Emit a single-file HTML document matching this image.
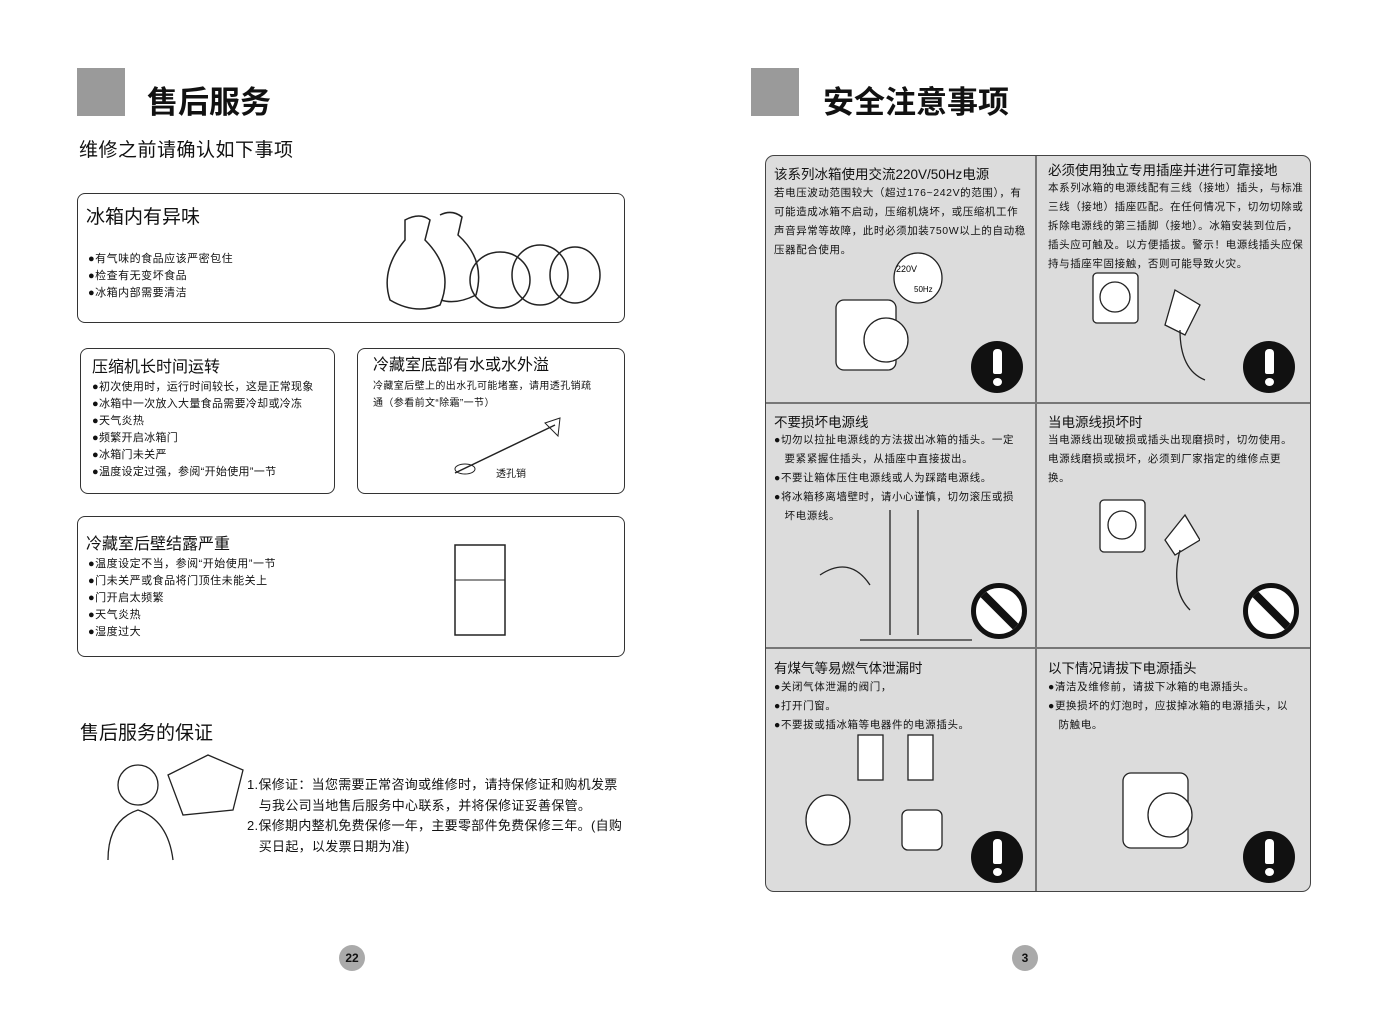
<!DOCTYPE html>
<html><head><meta charset="utf-8"><style>
body{margin:0;width:1380px;height:1020px;background:#fff;position:relative;font-family:"Liberation Sans","Noto Sans CJK SC",sans-serif;color:#111;overflow:hidden}
.a{position:absolute;white-space:nowrap}
.box{position:absolute;border:1.5px solid #333;border-radius:8px;box-sizing:border-box}
.sm{font-size:11px;line-height:17px;letter-spacing:0.5px}
.h{font-size:16px;line-height:20px}
.t{font-size:13.5px;line-height:18px}
.cell{position:absolute;font-size:10.5px;line-height:19px;white-space:nowrap;letter-spacing:0.6px}
.ex{position:absolute;width:52px;height:52px;border-radius:50%;background:#111}
.ex:before{content:"";position:absolute;left:22px;top:8px;width:9px;height:25px;background:#fff;border-radius:4px 4px 2px 2px}
.ex:after{content:"";position:absolute;left:22px;top:37px;width:9px;height:8px;background:#fff;border-radius:50%}
.no{position:absolute;width:46px;height:46px;border-radius:50%;border:5px solid #111;background:#fff;overflow:hidden}
.no:after{content:"";position:absolute;left:-6px;top:19px;width:60px;height:8px;background:#111;transform:rotate(45deg)}
.pg{position:absolute;width:26px;height:26px;border-radius:50%;background:#aaa;font-size:12px;font-weight:bold;text-align:center;line-height:26px}
</style></head><body>
<div class="a" style="left:77px;top:68px;width:48px;height:48px;background:#9a9a9a"></div>
<div class="a" style="left:147px;top:83px;font-size:31px;line-height:40px;font-weight:bold">售后服务</div>
<div class="a" style="left:79px;top:139px;font-size:19px;line-height:24px;letter-spacing:0.5px">维修之前请确认如下事项</div>

<div class="box" style="left:77px;top:193px;width:548px;height:130px"></div>
<div class="a" style="left:86px;top:206px;font-size:19px;line-height:24px">冰箱内有异味</div>
<div class="a sm" style="left:88px;top:251px">●有气味的食品应该严密包住<br>●检查有无变坏食品<br>●冰箱内部需要清洁</div>
<svg class="a" style="left:380px;top:205px" width="230" height="110"><g fill="none" stroke="#222" stroke-width="1.5"><path d="M25 15 q15 -8 25 0 l-5 20 q30 30 15 65 q-25 10 -50 -5 q-10 -30 15 -60z"/><path d="M60 10 q12 -6 22 2 l-4 18 q28 25 18 60 q-20 10 -35 5"/><ellipse cx="120" cy="75" rx="30" ry="28"/><ellipse cx="160" cy="70" rx="28" ry="30"/><ellipse cx="195" cy="70" rx="25" ry="28"/></g></svg>

<div class="box" style="left:80px;top:348px;width:255px;height:146px"></div>
<div class="a h" style="left:92px;top:358px">压缩机长时间运转</div>
<div class="a sm" style="left:92px;top:379px;letter-spacing:0.3px">●初次使用时，运行时间较长，这是正常现象<br>●冰箱中一次放入大量食品需要冷却或冷冻<br>●天气炎热<br>●频繁开启冰箱门<br>●冰箱门未关严<br>●温度设定过强，参阅“开始使用”一节</div>
<div class="box" style="left:357px;top:348px;width:268px;height:146px"></div>
<div class="a h" style="left:373px;top:356px">冷藏室底部有水或水外溢</div>
<div class="a" style="left:373px;top:378px;font-size:10px;line-height:17px;letter-spacing:0.4px">冷藏室后壁上的出水孔可能堵塞，请用透孔销疏<br>通（参看前文“除霜”一节）</div>
<svg class="a" style="left:440px;top:415px" width="130" height="70"><line x1="15" y1="58" x2="115" y2="10" stroke="#222" stroke-width="1.5"/><path d="M105 8 l15 -5 l-2 18 z" fill="none" stroke="#222"/><ellipse cx="25" cy="54" rx="10" ry="5" fill="none" stroke="#222"/></svg>
<div class="a" style="left:496px;top:465px;font-size:10px">透孔销</div>

<div class="box" style="left:77px;top:516px;width:548px;height:141px"></div>
<div class="a h" style="left:86px;top:535px">冷藏室后壁结露严重</div>
<div class="a sm" style="left:88px;top:556px">●温度设定不当，参阅“开始使用”一节<br>●门未关严或食品将门顶住未能关上<br>●门开启太频繁<br>●天气炎热<br>●湿度过大</div>
<svg class="a" style="left:430px;top:540px" width="90" height="100"><rect x="25" y="5" width="50" height="90" fill="none" stroke="#222" stroke-width="1.5"/><line x1="25" y1="40" x2="75" y2="40" stroke="#222"/></svg>

<div class="a" style="left:80px;top:722px;font-size:19px;line-height:24px">售后服务的保证</div>
<svg class="a" style="left:98px;top:750px" width="150" height="115"><g fill="none" stroke="#222" stroke-width="1.3"><circle cx="40" cy="35" r="20"/><path d="M10 110 q0 -40 30 -50 q30 10 35 50"/><path d="M70 25 l40 -20 l35 15 l-10 40 l-50 5z"/></g></svg>
<div class="a" style="left:247px;top:775px;font-size:13px;line-height:20.5px;letter-spacing:0.3px">1.保修证：当您需要正常咨询或维修时，请持保修证和购机发票<br>&nbsp;&nbsp;&nbsp;与我公司当地售后服务中心联系，并将保修证妥善保管。<br>2.保修期内整机免费保修一年，主要零部件免费保修三年。(自购<br>&nbsp;&nbsp;&nbsp;买日起，以发票日期为准)</div>
<div class="pg" style="left:339px;top:945px">22</div>

<div class="a" style="left:751px;top:68px;width:48px;height:48px;background:#9a9a9a"></div>
<div class="a" style="left:823px;top:83px;font-size:31px;line-height:40px;font-weight:bold">安全注意事项</div>
<div class="a" style="left:765px;top:155px;width:546px;height:737px;background:#dcdcdc;border:1.5px solid #444;border-radius:9px;box-sizing:border-box"></div>
<div class="a" style="left:1035px;top:156px;width:1.5px;height:735px;background:#777"></div>
<div class="a" style="left:766px;top:402px;width:544px;height:1.5px;background:#777"></div>
<div class="a" style="left:766px;top:647px;width:544px;height:1.5px;background:#777"></div>

<div class="a t" style="left:774px;top:166px">该系列冰箱使用交流220V/50Hz电源</div>
<div class="cell" style="left:774px;top:184px">若电压波动范围较大（超过176~242V的范围），有<br>可能造成冰箱不启动，压缩机烧坏，或压缩机工作<br>声音异常等故障，此时必须加装750W以上的自动稳<br>压器配合使用。</div>
<div class="a t" style="left:1048px;top:162px">必须使用独立专用插座并进行可靠接地</div>
<div class="cell" style="left:1048px;top:179px">本系列冰箱的电源线配有三线（接地）插头，与标准<br>三线（接地）插座匹配。在任何情况下，切勿切除或<br>拆除电源线的第三插脚（接地）。冰箱安装到位后，<br>插头应可触及。以方便插拔。警示！电源线插头应保<br>持与插座牢固接触，否则可能导致火灾。</div>
<svg class="a" style="left:826px;top:250px" width="130" height="140"><g fill="#fff" stroke="#222" stroke-width="1.3"><ellipse cx="92" cy="28" rx="24" ry="25"/><rect x="10" y="50" width="60" height="70" rx="8"/><circle cx="60" cy="90" r="22"/></g><text x="70" y="22" font-size="9" font-family="Liberation Sans">220V</text><text x="88" y="42" font-size="8" font-family="Liberation Sans">50Hz</text></svg>
<svg class="a" style="left:1090px;top:270px" width="120" height="120"><g fill="#fff" stroke="#222" stroke-width="1.3"><rect x="3" y="3" width="45" height="50" rx="4"/><circle cx="25" cy="27" r="15"/><path d="M85 20 l25 15 l-15 30 l-20 -10z"/><path d="M90 60 q0 40 25 50" fill="none"/></g></svg>
<div class="ex" style="left:971px;top:341px"></div>
<div class="ex" style="left:1243px;top:341px"></div>

<div class="a t" style="left:774px;top:414px">不要损坏电源线</div>
<div class="cell" style="left:774px;top:431px">●切勿以拉扯电源线的方法拔出冰箱的插头。一定<br>&nbsp;&nbsp;&nbsp;要紧紧握住插头，从插座中直接拔出。<br>●不要让箱体压住电源线或人为踩踏电源线。<br>●将冰箱移离墙壁时，请小心谨慎，切勿滚压或损<br>&nbsp;&nbsp;&nbsp;坏电源线。</div>
<div class="a t" style="left:1048px;top:414px">当电源线损坏时</div>
<div class="cell" style="left:1048px;top:431px">当电源线出现破损或插头出现磨损时，切勿使用。<br>电源线磨损或损坏，必须到厂家指定的维修点更<br>换。</div>
<svg class="a" style="left:800px;top:505px" width="180" height="140"><g fill="none" stroke="#222" stroke-width="1.3"><line x1="90" y1="5" x2="90" y2="130"/><line x1="118" y1="5" x2="118" y2="130"/><line x1="60" y1="135" x2="172" y2="135"/><path d="M20 70 q30 -20 50 10"/></g></svg>
<svg class="a" style="left:1090px;top:495px" width="110" height="120"><g fill="#fff" stroke="#222" stroke-width="1.3"><rect x="10" y="5" width="45" height="52" rx="4"/><circle cx="32" cy="30" r="14"/><path d="M95 20 l15 25 l-25 15 l-10 -15z"/><path d="M90 55 q-10 40 10 60" fill="none"/></g></svg>
<div class="no" style="left:971px;top:583px"></div>
<div class="no" style="left:1243px;top:583px"></div>

<div class="a t" style="left:774px;top:660px">有煤气等易燃气体泄漏时</div>
<div class="cell" style="left:774px;top:678px">●关闭气体泄漏的阀门，<br>●打开门窗。<br>●不要拔或插冰箱等电器件的电源插头。</div>
<div class="a t" style="left:1048px;top:660px">以下情况请拔下电源插头</div>
<div class="cell" style="left:1048px;top:678px">●清洁及维修前，请拔下冰箱的电源插头。<br>●更换损坏的灯泡时，应拔掉冰箱的电源插头，以<br>&nbsp;&nbsp;&nbsp;防触电。</div>
<svg class="a" style="left:790px;top:730px" width="180" height="140"><g fill="#fff" stroke="#222" stroke-width="1.3"><rect x="68" y="5" width="25" height="45"/><rect x="118" y="5" width="25" height="45"/><ellipse cx="38" cy="90" rx="22" ry="25"/><rect x="112" y="80" width="40" height="40" rx="6"/></g></svg>
<svg class="a" style="left:1115px;top:765px" width="110" height="100"><g fill="#fff" stroke="#222" stroke-width="1.3"><rect x="8" y="8" width="65" height="75" rx="8"/><circle cx="55" cy="50" r="22"/></g></svg>
<div class="ex" style="left:971px;top:831px"></div>
<div class="ex" style="left:1243px;top:831px"></div>
<div class="pg" style="left:1012px;top:945px">3</div>
</body></html>
